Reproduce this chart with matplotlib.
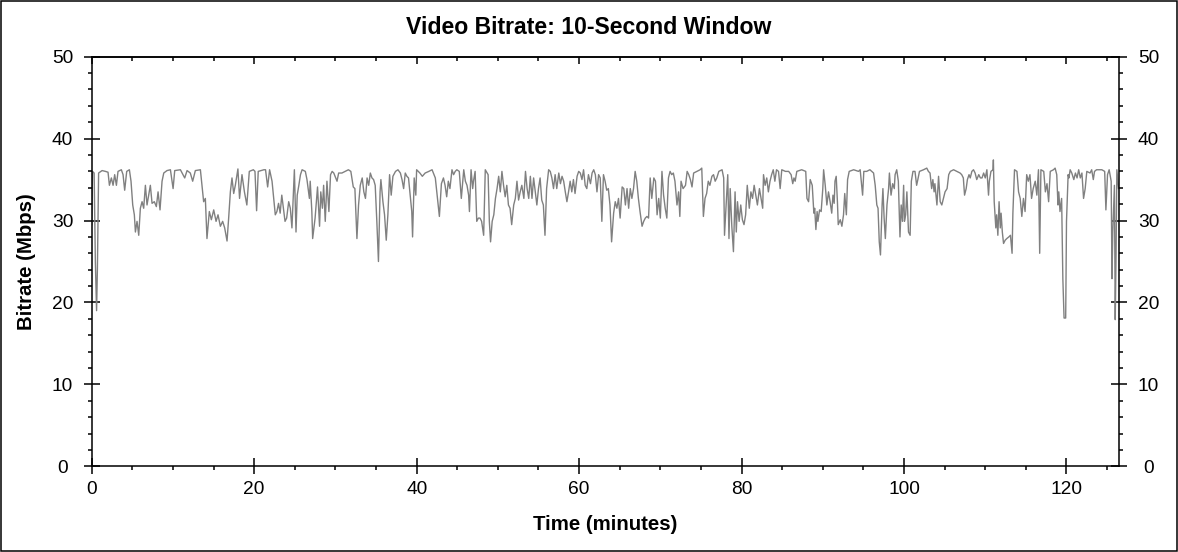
import matplotlib
matplotlib.use("Agg")
import matplotlib.pyplot as plt
from matplotlib.ticker import MultipleLocator, NullFormatter
from matplotlib.patches import Rectangle

plt.rcParams['font.family'] = ['Liberation Sans', 'DejaVu Sans']

# time in minutes
minutes = [
    0.0, 0.1, 0.3, 0.45, 0.6, 0.7, 0.85, 1.28, 1.69, 2.01, 2.18, 2.42, 2.63, 2.83, 3.04,
    3.24, 3.65, 3.86, 4.06, 4.31, 4.64, 4.84, 5.05, 5.25, 5.38, 5.58, 5.79, 5.99, 6.20,
    6.40, 6.61, 6.81, 7.02, 7.22, 7.43, 7.71, 7.96, 8.17, 8.41, 8.66, 8.87, 9.27, 9.69,
    10.02, 10.22, 10.92, 11.45, 11.74, 12.14, 12.43, 12.76, 13.38, 13.58, 13.78, 13.99,
    14.19, 14.48, 14.73, 15.02, 15.31, 15.55, 15.84, 16.12, 16.37, 16.66, 16.86, 17.07,
    17.27, 17.48, 17.68, 18.0, 18.2, 18.5, 18.8, 19.1, 19.4, 19.9, 20.1, 20.3, 20.5, 21.2,
    # 21 - 43
    21.4, 21.66, 21.9, 22.2, 22.4, 22.6, 22.8, 23.0, 23.2, 23.4, 23.6, 23.8, 24.0, 24.25,
    24.45, 24.65, 24.95, 25.15, 25.3, 25.5, 25.7, 25.9, 26.3, 26.5, 26.8, 26.9, 27.1, 27.2,
    27.5, 27.8, 28.05, 28.2, 28.4, 28.55, 28.75, 28.96, 29.2, 29.4, 29.6, 29.8, 30.2, 30.4,
    30.8, 31.2, 31.6, 31.9, 32.2, 32.4, 32.65, 32.85, 33.06, 33.3, 33.5, 33.7, 33.9, 34.1,
    34.3, 34.5, 34.7, 34.9, 35.1, 35.3, 35.5, 35.6, 35.85, 36.05, 36.26, 36.46, 36.67,
    36.87, 37.08, 37.4, 37.7, 38.0, 38.2, 38.4, 38.6, 38.8, 39.0, 39.2, 39.4, 39.5, 39.7,
    39.9, 40.0, 40.4, 40.7, 41.05, 41.5, 41.9, 42.3, 42.5,
    # 43 - 64
    42.8, 43.05, 43.3, 43.5, 43.7, 43.9, 44.1, 44.35, 44.55, 44.75, 44.95, 45.25, 45.5,
    45.8, 46.0, 46.2, 46.4, 46.5, 46.7, 46.9, 47.0, 47.2, 47.4, 47.6, 47.8, 48.0, 48.25,
    48.45, 48.8, 48.95, 49.1, 49.3, 49.5, 49.7, 49.9, 50.1, 50.3, 50.5, 50.7, 50.9, 51.1,
    51.3, 51.5, 51.7, 51.95, 52.15, 52.35, 52.55, 52.75, 52.95, 53.2, 53.4, 53.6, 53.8,
    54.0, 54.2, 54.4, 54.6, 54.8, 55.0, 55.2, 55.4, 55.6, 55.8, 56.0, 56.25, 56.45, 56.65,
    56.85, 57.05, 57.25, 57.5, 57.7, 57.9, 58.1, 58.3, 58.5, 58.7, 58.9, 59.1, 59.3, 59.5,
    59.75, 59.95, 60.15, 60.35, 60.55, 60.75, 60.95, 61.15, 61.4, 61.6, 61.8, 62.0, 62.2,
    62.4, 62.6, 62.8, 63.0, 63.2, 63.4, 63.6, 63.8, 64.0,
    # 64 - 85
    64.25, 64.45, 64.65, 64.85, 65.05, 65.3, 65.5, 65.7, 65.9, 66.1, 66.3, 66.5, 66.7,
    66.9, 67.1, 67.3, 67.5, 67.75, 67.95, 68.15, 68.35, 68.55, 68.75, 68.95, 69.2, 69.4,
    69.6, 69.8, 70.0, 70.2, 70.4, 70.6, 70.8, 71.0, 71.2, 71.4, 71.6, 71.8, 72.05, 72.25,
    72.4, 72.55, 72.8, 73.1, 73.3, 73.5, 73.7, 73.9, 74.1, 74.5, 74.9, 75.1, 75.3, 75.5,
    75.7, 75.9, 76.1, 76.35, 76.55, 76.75, 76.95, 77.2, 77.6, 77.8, 77.9, 78.1, 78.3,
    78.45, 78.6, 78.8, 79.0, 79.2, 79.35, 79.5, 79.7, 79.9, 80.1, 80.3, 80.5, 80.7, 80.95,
    81.15, 81.35, 81.55, 81.75, 81.95, 82.2, 82.4, 82.6, 82.7, 82.9, 83.1, 83.3, 83.5,
    83.7, 83.9, 84.1, 84.3, 84.55, 84.75, 84.95, 85.4,
    # 85 - 107
    85.8, 86.1, 86.3, 86.45, 86.6, 86.8, 87.4, 87.9, 88.05, 88.25, 88.45, 88.7, 88.9, 89.0,
    89.15, 89.3, 89.4, 89.6, 89.8, 90.0, 90.1, 90.3, 90.5, 90.7, 90.9, 91.1, 91.25, 91.4,
    91.5, 91.65, 91.8, 91.9, 92.15, 92.35, 92.55, 92.7, 92.9, 93.05, 93.25, 93.8, 94.4,
    94.6, 94.9, 95.05, 95.4, 95.8, 96.25, 96.45, 96.65, 96.8, 96.95, 97.1, 97.3, 97.4,
    97.55, 97.7, 97.9, 98.1, 98.2, 98.4, 98.6, 98.8, 98.9, 99.1, 99.3, 99.5, 99.65, 99.8,
    99.95, 100.05, 100.2, 100.35, 100.55, 100.75, 100.9, 101.1, 101.35, 101.55, 101.7,
    101.9, 102.4, 102.8, 103.0, 103.2, 103.4, 103.55, 103.7, 103.8, 104.05, 104.25, 104.45,
    104.65, 104.85, 105.05, 105.3, 105.5, 105.7, 106.1, 106.5, 106.9,
    # 107 - end
    107.1, 107.3, 107.45, 107.65, 107.8, 108.0, 108.15, 108.35, 108.55, 108.75, 108.95,
    109.2, 109.4, 109.6, 109.8, 110.0, 110.2, 110.4, 110.5, 110.7, 110.95, 111.0, 111.1,
    111.3, 111.4, 111.55, 111.7, 111.85, 111.95, 112.1, 112.25, 112.45, 112.65, 112.9,
    113.1, 113.3, 113.4, 113.6, 113.9, 114.1, 114.3, 114.5, 114.7, 114.9, 115.1, 115.3,
    115.5, 115.7, 115.9, 116.15, 116.35, 116.55, 116.7, 116.85, 117.2, 117.4, 117.6, 117.8,
    118.0, 118.4, 118.6, 118.8, 118.95, 119.05, 119.2, 119.4, 119.55, 119.7, 119.9, 120.0,
    120.2, 120.3, 120.45, 120.65, 120.9, 121.1, 121.3, 121.5, 121.7, 121.9, 122.1, 122.3,
    122.5, 122.9, 123.1, 123.3, 123.45, 123.7, 124.35, 124.7, 124.85, 125.05, 125.25,
    125.5, 125.6, 125.7, 125.9, 126.0, 126.1, 126.2, 126.4,
]

# bitrate in Mbps at those times
mbps = [
    29.5, 36.0, 35.8, 25.0, 19.0, 24.0, 35.8, 36.1, 36.0, 35.9, 34.3, 35.2, 34.3, 35.6, 34.3,
    36.0, 36.2, 35.6, 33.7, 36.0, 36.2, 34.8, 31.9, 30.7, 28.6, 29.9, 28.2, 31.5, 32.3,
    31.5, 34.3, 31.9, 33.1, 34.3, 32.1, 32.3, 31.7, 33.5, 31.3, 34.8, 35.8, 36.1, 36.2,
    33.9, 36.1, 36.2, 35.2, 36.1, 35.8, 34.8, 36.1, 36.2, 34.3, 32.3, 32.7,
    27.8, 31.1, 30.1, 31.3, 29.9, 30.7, 29.3, 29.9, 29.1, 27.5, 30.3, 33.5,
    35.2, 33.3, 34.3, 36.3, 32.7, 35.6, 33.5, 31.9, 36.0, 36.2, 36.0, 31.2, 36.0, 36.2,
    # 21 - 43
    36.2, 34.1, 36.2, 34.8, 32.7, 30.7, 31.1, 32.1, 30.9, 33.1, 31.5, 29.9, 30.3, 32.3,
    31.5, 29.1, 36.2, 28.6, 33.1, 34.3, 35.6, 36.2, 36.0, 35.0, 32.7, 34.8, 31.1, 27.8,
    30.3, 34.1, 29.3, 33.5, 31.5, 34.3, 29.9, 34.8, 31.1, 35.6, 36.0, 35.8, 34.8, 35.8,
    35.8, 36.0, 36.2, 36.0, 34.1, 33.9, 27.8, 31.9, 34.3, 35.2, 33.5, 32.7, 35.2, 34.3,
    35.8, 35.2, 35.0, 34.3, 29.9, 25.0, 33.5, 35.0, 32.3, 30.7, 27.6, 30.7, 35.6,
    33.1, 35.4, 36.0, 36.2, 35.8, 35.0, 33.9, 35.8, 35.4, 35.2, 33.1, 31.1, 28.0, 35.2,
    33.1, 36.2, 35.8, 35.4, 35.8, 36.0, 36.2, 35.2, 33.3,
    # 43 - 64
    30.5, 34.5, 35.2, 34.3, 32.9, 34.8, 33.9, 36.2, 35.6, 36.0, 36.2, 36.0, 32.7,
    36.2, 34.8, 34.3, 33.1, 31.1, 36.2, 33.9, 34.8, 36.0, 29.9, 30.3, 30.3, 29.9, 28.2,
    36.2, 35.6, 29.9, 27.4, 29.9, 30.7, 32.7, 33.9, 35.4, 33.5, 36.0, 34.3, 32.9, 34.3,
    31.9, 31.5, 29.5, 31.9, 32.7, 34.8, 32.5, 33.5, 34.3, 32.7, 36.0, 33.9, 32.7,
    35.4, 32.7, 35.2, 33.5, 31.9, 33.9, 35.2, 32.5, 31.9, 28.2, 33.9, 36.2, 36.0, 35.2,
    33.9, 35.6, 33.9, 35.8, 34.5, 35.4, 34.8, 33.5, 32.3, 33.5, 34.8, 33.5, 35.0, 33.3,
    35.4, 36.0, 35.8, 35.0, 36.2, 34.3, 33.9, 35.6, 34.5, 35.8, 36.2, 35.6, 33.5,
    35.6, 35.2, 29.9, 35.6, 34.8, 33.7, 33.9, 31.9, 27.4,
    # 64 - 85
    30.9, 32.3, 31.5, 32.7, 30.3, 34.1, 33.9, 31.9, 33.9, 31.5, 33.9, 32.7, 33.9,
    36.0, 34.8, 32.7, 31.1, 29.3, 29.9, 30.3, 30.5, 30.3, 35.2, 32.7, 35.2, 34.8,
    30.7, 32.7, 30.3, 36.0, 33.1, 31.5, 30.3, 35.2, 36.0, 35.6, 35.8, 34.8, 31.9, 33.5,
    30.5, 34.8, 33.9, 34.3, 36.0, 35.6, 35.0, 34.1, 35.8, 36.0, 36.2, 36.4, 30.5, 32.7,
    33.3, 34.8, 34.3, 35.4, 35.6, 34.8, 35.2, 36.0, 36.2, 35.2, 28.2, 31.9, 35.6,
    27.8, 33.9, 29.3, 26.2, 33.5, 28.6, 32.3, 29.9, 31.9, 30.1, 29.5, 30.7, 34.3, 31.5,
    33.5, 32.7, 34.3, 33.1, 31.9, 33.9, 32.7, 31.5, 35.6, 34.3, 35.2, 33.5, 34.8,
    35.6, 36.2, 34.8, 36.2, 36.0, 33.9, 36.2, 36.0,
    # 85 - 107
    36.0, 35.6, 34.5, 35.2, 34.8, 36.0, 36.2, 36.0, 32.7, 32.3, 35.0, 34.3, 30.9, 31.5,
    28.9, 31.1, 29.9, 31.3, 31.1, 33.9, 36.2, 34.3, 31.9, 33.5, 32.3, 30.9, 33.1, 32.1,
    34.8, 35.4, 32.3, 29.5, 30.1, 29.3, 30.7, 33.3, 30.7, 35.0, 36.0, 36.2, 36.0,
    36.2, 33.1, 36.0, 36.0, 36.2, 35.8, 34.3, 31.9, 31.5, 27.4, 25.8, 31.9, 33.9,
    30.3, 27.8, 31.9, 33.9, 35.8, 33.1, 34.5, 33.9, 35.6, 36.2, 34.8, 28.0, 31.9, 29.9,
    34.3, 29.9, 30.7, 33.5, 28.6, 28.2, 34.8, 36.0, 36.0, 34.3, 35.0,
    36.0, 36.2, 36.4, 36.0, 35.8, 33.9, 35.0, 33.5, 34.5, 31.9, 35.4, 32.3,
    31.9, 32.7, 33.5, 33.9, 35.6, 36.0, 36.2, 36.0, 35.8,
    # 107 - end
    35.6, 35.2, 33.1, 33.9, 35.0, 35.6, 35.2, 36.0, 36.2, 35.8, 35.0,
    35.6, 35.2, 35.2, 35.8, 35.2, 36.2, 33.1, 34.8, 36.0, 36.2, 37.4, 32.3,
    29.1, 30.7, 28.2, 32.3, 29.1, 30.9, 28.6, 27.2, 27.6, 27.8, 28.0,
    28.2, 26.0, 30.9, 36.2, 36.0, 33.5, 32.7, 30.5, 32.7, 31.1, 35.6, 34.8,
    35.6, 32.7, 33.9, 34.8, 33.1, 36.2, 26.0, 36.2, 36.0, 33.5, 34.5, 32.3,
    36.0, 36.2, 36.4, 35.6, 31.9, 33.5, 31.1, 32.7, 22.9, 18.1, 18.1, 29.9,
    35.6, 35.2, 36.2, 35.8, 35.0, 35.8, 35.2, 36.2, 35.2, 35.8, 32.7, 33.9,
    36.0, 35.8, 36.2, 35.0, 36.0, 36.2, 36.2, 36.0, 31.3, 35.6, 36.2,
    34.8, 22.9, 28.6, 34.3, 17.9, 25.8, 36.2, 33.9,
]

W, H = 1178, 552
fig = plt.figure(figsize=(W / 100, H / 100), dpi=100)
ax = fig.add_axes([91.7 / W, 1 - 466.3 / H, (1119.3 - 91.7) / W, (466.3 - 56.7) / H])

ax.plot(minutes, mbps, color='#808080', lw=1.0)

ax.set_xlim(0, 126.5)
ax.set_ylim(0, 50)
ax.xaxis.set_major_locator(MultipleLocator(20))
ax.xaxis.set_minor_locator(MultipleLocator(5))
ax.yaxis.set_major_locator(MultipleLocator(10))
ax.yaxis.set_minor_locator(MultipleLocator(2))

for s in ax.spines.values():
    s.set_linewidth(1.1)

ax.tick_params(axis='x', which='major', direction='inout', length=11, width=1.1,
               labelsize=13.8, pad=5)
ax.tick_params(axis='x', which='minor', direction='out', length=3.2, width=1.1)
ax.tick_params(axis='y', which='both', left=True, right=True,
               labelleft=True, labelright=True)
ax.tick_params(axis='y', which='major', direction='inout', length=11, width=1.1,
               labelsize=13.8, pad=15.5)
ax.tick_params(axis='y', which='minor', direction='out', length=3.2, width=1.1)
for tk in ax.yaxis.get_major_ticks():
    tk.label1.set_horizontalalignment('center')
    tk.label2.set_horizontalalignment('center')

# top axis: ticks point inward, no labels
top = ax.secondary_xaxis('top')
top.xaxis.set_major_locator(MultipleLocator(20))
top.xaxis.set_minor_locator(MultipleLocator(5))
top.xaxis.set_major_formatter(NullFormatter())
top.tick_params(which='major', direction='in', length=5, width=1.1)
top.tick_params(which='minor', direction='in', length=3.2, width=1.1)
top.spines['top'].set_linewidth(1.1)

fig.text(0.5, 1 - 28 / H, 'Video Bitrate: 10-Second Window', ha='center', va='center',
         fontsize=16.6, fontweight='bold')
fig.text(605.5 / W, 1 - 524 / H, 'Time (minutes)', ha='center', va='center',
         fontsize=14.7, fontweight='bold')
fig.text(27 / W, 1 - 261.5 / H, 'Bitrate (Mbps)', ha='center', va='center',
         rotation=90, fontsize=14.7, fontweight='bold')

fig.patches.append(Rectangle((0.8 / W, 1.5 / H), (W - 2.3) / W, (H - 2.5) / H,
                             transform=fig.transFigure, fill=False, lw=1.1,
                             ec='black'))

fig.savefig('out.png', dpi=100)
